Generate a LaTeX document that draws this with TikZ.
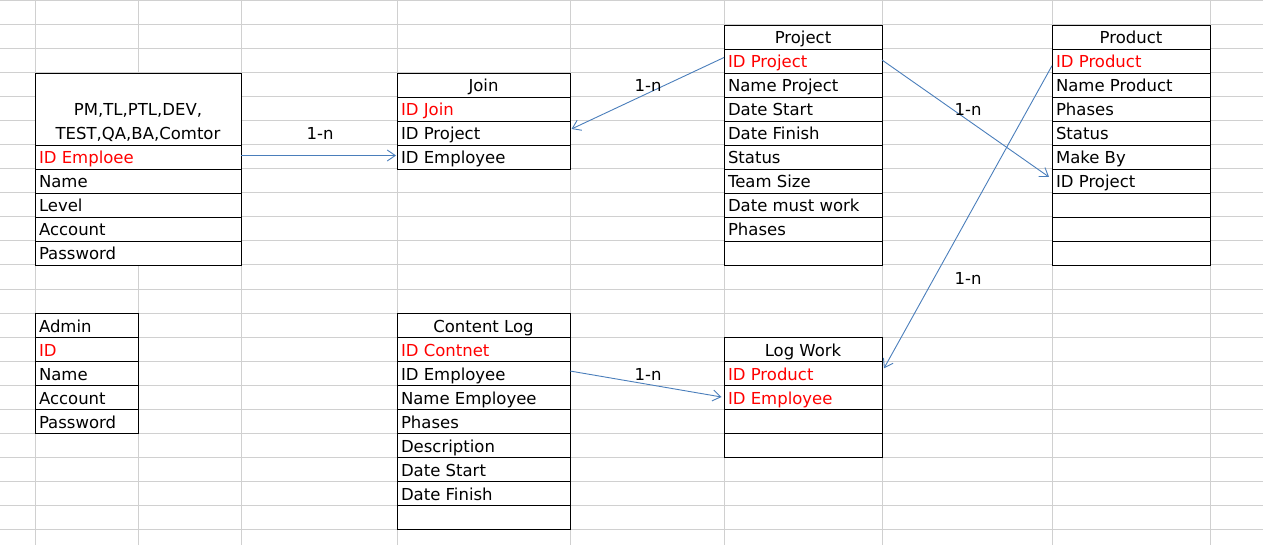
\documentclass[tikz,border=0pt]{standalone}
\usepackage{fontspec}
\setmainfont{DejaVu Sans}
\usetikzlibrary{arrows.meta}
\definecolor{gridgray}{HTML}{D0D0D0}
\definecolor{linkblue}{HTML}{4A7EBB}
\definecolor{keyred}{HTML}{FF0000}
\tikzset{
  cellbox/.style={draw=black,fill=white,line width=0.9pt,inner sep=0pt,outer sep=0pt,minimum height=24pt,anchor=north west},
  txt/.style={inner sep=0pt,outer sep=0pt,text=black,font=\fontsize{16.5}{19}\selectfont},
  keytxt/.style={txt,text=keyred},
  link/.style={draw=linkblue,line width=0.9pt,-{Straight Barb[length=8pt,width=11pt]}},
  card/.style={txt,anchor=base}
}
\newcommand{\fld}[6]{%
  \node[cellbox,minimum width=#4pt] (#1) at (#2,#3) {};
  \node[#6,anchor=base west] (#1-t) at ([shift={(4pt,5pt)}]#1.south west) {#5};}
\newcommand{\hdr}[5]{%
  \node[cellbox,minimum width=#4pt] (#1) at (#2,#3) {};
  \node[txt,anchor=base] (#1-t) at ([yshift=5pt]#1.south) {#5};}
\begin{document}
\begin{tikzpicture}[x=1pt,y=-1pt]
\useasboundingbox (0,0) rectangle (1263,545);
% spreadsheet grid
\foreach \r in {0,...,22} \draw[gridgray,line width=1pt] (0,1+24*\r) -- (1263,1+24*\r);
\foreach \c in {35,138,241,397,570,724,882,1052,1210} \draw[gridgray,line width=1pt] (\c,0) -- (\c,545);

% Employee table
\node[cellbox,minimum width=206pt,minimum height=72pt] (emp-h) at (35,73) {};
\node[txt,anchor=base] (emp-h1) at (138,116) {PM,TL,PTL,DEV,};
\node[txt,anchor=base] (emp-h2) at (138,140) {TEST,QA,BA,Comtor};
\fld{emp-id}{35}{145}{206}{ID Emploee}{keytxt}
\fld{emp-name}{35}{169}{206}{Name}{txt}
\fld{emp-level}{35}{193}{206}{Level}{txt}
\fld{emp-acc}{35}{217}{206}{Account}{txt}
\fld{emp-pw}{35}{241}{206}{Password}{txt}

% Admin table
\fld{adm-h}{35}{313}{103}{Admin}{txt}
\fld{adm-id}{35}{337}{103}{ID}{keytxt}
\fld{adm-name}{35}{361}{103}{Name}{txt}
\fld{adm-acc}{35}{385}{103}{Account}{txt}
\fld{adm-pw}{35}{409}{103}{Password}{txt}

% Join table
\hdr{join-h}{397}{73}{173}{Join}
\fld{join-id}{397}{97}{173}{ID Join}{keytxt}
\fld{join-proj}{397}{121}{173}{ID Project}{txt}
\fld{join-emp}{397}{145}{173}{ID Employee}{txt}

% Content Log table
\hdr{cl-h}{397}{313}{173}{Content Log}
\fld{cl-id}{397}{337}{173}{ID Contnet}{keytxt}
\fld{cl-emp}{397}{361}{173}{ID Employee}{txt}
\fld{cl-name}{397}{385}{173}{Name Employee}{txt}
\fld{cl-ph}{397}{409}{173}{Phases}{txt}
\fld{cl-desc}{397}{433}{173}{Description}{txt}
\fld{cl-ds}{397}{457}{173}{Date Start}{txt}
\fld{cl-df}{397}{481}{173}{Date Finish}{txt}
\fld{cl-e1}{397}{505}{173}{}{txt}

% Project table
\hdr{proj-h}{724}{25}{158}{Project}
\fld{proj-id}{724}{49}{158}{ID Project}{keytxt}
\fld{proj-name}{724}{73}{158}{Name Project}{txt}
\fld{proj-ds}{724}{97}{158}{Date Start}{txt}
\fld{proj-df}{724}{121}{158}{Date Finish}{txt}
\fld{proj-st}{724}{145}{158}{Status}{txt}
\fld{proj-ts}{724}{169}{158}{Team Size}{txt}
\fld{proj-dm}{724}{193}{158}{Date must work}{txt}
\fld{proj-ph}{724}{217}{158}{Phases}{txt}
\fld{proj-e1}{724}{241}{158}{}{txt}

% Log Work table
\hdr{lw-h}{724}{337}{158}{Log Work}
\fld{lw-prod}{724}{361}{158}{ID Product}{keytxt}
\fld{lw-emp}{724}{385}{158}{ID Employee}{keytxt}
\fld{lw-e1}{724}{409}{158}{}{txt}
\fld{lw-e2}{724}{433}{158}{}{txt}

% Product table
\hdr{prod-h}{1052}{25}{158}{Product}
\fld{prod-id}{1052}{49}{158}{ID Product}{keytxt}
\fld{prod-name}{1052}{73}{158}{Name Product}{txt}
\fld{prod-ph}{1052}{97}{158}{Phases}{txt}
\fld{prod-st}{1052}{121}{158}{Status}{txt}
\fld{prod-mb}{1052}{145}{158}{Make By}{txt}
\fld{prod-idp}{1052}{169}{158}{ID Project}{txt}
\fld{prod-e1}{1052}{193}{158}{}{txt}
\fld{prod-e2}{1052}{217}{158}{}{txt}
\fld{prod-e3}{1052}{241}{158}{}{txt}

% relations
\draw[link] ([yshift=1.5pt]emp-id.east) -- ([shift={(-1pt,1.5pt)}]join-emp.west);
\draw[link] ([yshift=3.5pt]proj-id.west) -- ([shift={(1.5pt,4pt)}]join-proj.east);
\draw[link] ([yshift=1pt]proj-id.east) -- ([shift={(-3pt,4pt)}]prod-idp.west);
\draw[link] ([yshift=-4.7pt]prod-id.west) -- ([shift={(2pt,4.7pt)}]lw-prod.east);
\draw[link] ([yshift=2pt]cl-emp.east) -- ([xshift=-2.5pt]lw-emp.west);

% cardinality labels
\node[card] (c1) at (320,140) {1-n};
\node[card] (c2) at (648,92) {1-n};
\node[card] (c3) at (968,116) {1-n};
\node[card] (c4) at (968,284) {1-n};
\node[card] (c5) at (648,380) {1-n};
\end{tikzpicture}
\end{document}
